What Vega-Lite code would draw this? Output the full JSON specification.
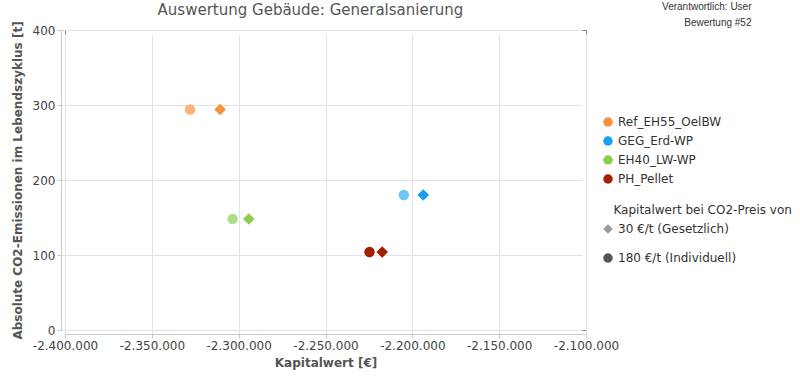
{
  "$schema": "https://vega.github.io/schema/vega-lite/v6.json",
  "width": 521,
  "height": 300,
  "autosize": {"type": "none"},
  "padding": {"left": 65, "top": 30, "right": 214, "bottom": 48},
  "background": "white",
  "title": {
    "text": "Auswertung Gebäude: Generalsanierung",
    "font": "DejaVu Sans",
    "fontSize": 15,
    "fontWeight": "normal",
    "color": "#555555",
    "anchor": "middle",
    "dx": -15,
    "offset": -17
  },
  "config": {
    "locale": {"number": {"decimal": ",", "thousands": ".", "grouping": [3], "currency": ["", " €"], "minus": "-"}},
    "font": "DejaVu Sans",
    "view": {"stroke": "#808080", "strokeWidth": 1},
    "axis": {
      "labelFont": "DejaVu Sans",
      "labelFontSize": 12,
      "labelColor": "#444444",
      "titleFont": "DejaVu Sans",
      "titleFontSize": 12,
      "titleFontWeight": "bold",
      "titleColor": "#555555",
      "gridColor": "#e3e3e3",
      "domainColor": "#c8c8c8",
      "tickColor": "#c8c8c8",
      "tickSize": 4,
      "offset": 4,
      "labelFlush": false,
      "labelOverlap": false
    },
    "legend": {
      "labelFont": "DejaVu Sans",
      "labelFontSize": 12,
      "labelColor": "#333333",
      "titleFont": "DejaVu Sans",
      "titleFontSize": 12,
      "titleFontWeight": "normal",
      "titleColor": "#333333",
      "titleLimit": 300,
      "labelLimit": 300
    }
  },
  "data": {
    "values": [
      {"Serie": "Ref_EH55_OelBW", "Preis": "180 €/t (Individuell)", "Kapitalwert": -2328000, "CO2": 294},
      {"Serie": "Ref_EH55_OelBW", "Preis": "30 €/t (Gesetzlich)", "Kapitalwert": -2310700, "CO2": 294},
      {"Serie": "GEG_Erd-WP", "Preis": "180 €/t (Individuell)", "Kapitalwert": -2204900, "CO2": 180},
      {"Serie": "GEG_Erd-WP", "Preis": "30 €/t (Gesetzlich)", "Kapitalwert": -2193700, "CO2": 180},
      {"Serie": "EH40_LW-WP", "Preis": "180 €/t (Individuell)", "Kapitalwert": -2303500, "CO2": 148},
      {"Serie": "EH40_LW-WP", "Preis": "30 €/t (Gesetzlich)", "Kapitalwert": -2294150, "CO2": 148},
      {"Serie": "PH_Pellet", "Preis": "180 €/t (Individuell)", "Kapitalwert": -2224650, "CO2": 104},
      {"Serie": "PH_Pellet", "Preis": "30 €/t (Gesetzlich)", "Kapitalwert": -2217350, "CO2": 104}
    ]
  },
  "encoding": {
    "y": {
      "field": "CO2",
      "type": "quantitative",
      "scale": {"domain": [0, 400], "nice": false},
      "axis": {"title": "Absolute CO2-Emissionen im Lebendszyklus [t]", "values": [0, 100, 200, 300, 400], "titlePadding": 8}
    }
  },
  "layer": [
    {
      "transform": [{"filter": "datum.Preis === '180 €/t (Individuell)'"}],
      "mark": {"type": "point", "filled": true, "opacity": 1, "size": 110},
      "encoding": {
        "x": {
          "field": "Kapitalwert",
          "type": "quantitative",
          "scale": {"domain": [-2400000, -2100000], "nice": false, "zero": false},
          "axis": {"orient": "bottom", "title": "Kapitalwert [€]", "format": ",d", "values": [-2400000, -2350000, -2300000, -2250000, -2200000, -2150000, -2100000], "titlePadding": 6}
        },
        "color": {
          "field": "Serie",
          "type": "nominal",
          "scale": {"domain": ["Ref_EH55_OelBW", "GEG_Erd-WP", "EH40_LW-WP", "PH_Pellet"], "range": ["#fdb27a", "#6fc5f5", "#acdf85", "#a31f00"]},
          "legend": null
        },
        "shape": {
          "field": "Preis",
          "type": "nominal",
          "scale": {"domain": ["30 €/t (Gesetzlich)", "180 €/t (Individuell)"], "range": ["diamond", "circle"]},
          "legend": null
        }
      }
    },
    {
      "transform": [{"filter": "datum.Preis === '30 €/t (Gesetzlich)'"}],
      "mark": {"type": "point", "filled": true, "opacity": 1, "size": 135},
      "encoding": {
        "x": {
          "field": "Kapitalwert",
          "type": "quantitative",
          "scale": {"domain": [-2400000, -2100000], "nice": false, "zero": false},
          "axis": {"orient": "top", "offset": 0, "labels": false, "ticks": false, "domain": false, "grid": false,
                   "title": ["Verantwortlich: User", "Bewertung #52"],
                   "titleFont": "Liberation Sans", "titleFontSize": 10, "titleFontWeight": "normal", "titleColor": "#333333",
                   "titleAlign": "right", "titleBaseline": "top", "titleLineHeight": 16, "titleX": 686, "titleY": -29, "titleAngle": 0}
        },
        "color": {
          "field": "Serie",
          "type": "nominal",
          "scale": {"domain": ["Ref_EH55_OelBW", "GEG_Erd-WP", "EH40_LW-WP", "PH_Pellet"], "range": ["#f7913d", "#1a9ff0", "#8dcf4b", "#a31f00"]},
          "legend": {
            "title": null,
            "orient": "none",
            "legendX": 537,
            "legendY": 86,
            "padding": 0,
            "symbolType": "circle",
            "symbolSize": 90,
            "labelOffset": 4,
            "rowPadding": 7,
            "symbolOpacity": 1
          }
        },
        "shape": {
          "field": "Preis",
          "type": "nominal",
          "scale": {"domain": ["30 €/t (Gesetzlich)", "180 €/t (Individuell)"], "range": ["diamond", "circle"]},
          "legend": null
        }
      }
    },
    {
      "mark": {"type": "point", "filled": true, "opacity": 0, "size": 90},
      "encoding": {
        "x": {
          "field": "Kapitalwert",
          "type": "quantitative",
          "scale": {"domain": [-2400000, -2100000], "nice": false, "zero": false},
          "axis": null
        },
        "color": {
          "field": "Preis",
          "type": "nominal",
          "scale": {"domain": ["30 €/t (Gesetzlich)", "180 €/t (Individuell)"], "range": ["#999999", "#555555"]},
          "legend": {
            "title": "\u200b\u00a0\u00a0\u00a0Kapitalwert bei CO2-Preis von",
            "orient": "none",
            "legendX": 537,
            "legendY": 175,
            "padding": 0,
            "symbolSize": 90,
            "symbolOpacity": 1,
            "labelOffset": 4,
            "rowPadding": 13,
            "titlePadding": 6,
            "titleLimit": 300
          }
        },
        "shape": {
          "field": "Preis",
          "type": "nominal",
          "scale": {"domain": ["30 €/t (Gesetzlich)", "180 €/t (Individuell)"], "range": ["diamond", "circle"]},
          "legend": {
            "title": "\u200b\u00a0\u00a0\u00a0Kapitalwert bei CO2-Preis von",
            "orient": "none",
            "legendX": 537,
            "legendY": 175,
            "padding": 0,
            "symbolSize": 90,
            "symbolOpacity": 1,
            "labelOffset": 4,
            "rowPadding": 13,
            "titlePadding": 6,
            "titleLimit": 300
          }
        }
      }
    }
  ],
  "resolve": {"scale": {"color": "independent", "x": "independent", "shape": "independent"}}
}
